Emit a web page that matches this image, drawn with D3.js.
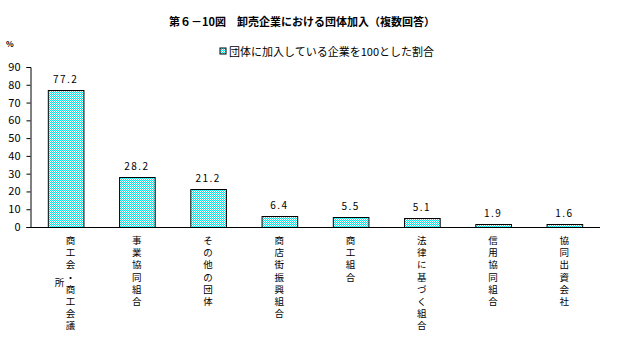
<!DOCTYPE html>
<html><head><meta charset="utf-8">
<script src="https://cdn.jsdelivr.net/npm/d3@7"></script>
<style>
body{margin:0;background:#fff;}
text{font-family:"Noto Sans CJK JP","DejaVu Sans",sans-serif;fill:#000;}
text.cat{font-family:"Liberation Sans","Noto Sans CJK JP",sans-serif;}
</style></head>
<body><svg id="c" width="621" height="343"></svg>
<script>
const categories = ["商工会・商工会議所","事業協同組合","その他の団体","商店街振興組合","商工組合","法律に基づく組合","信用協同組合","協同出資会社"];
const values = [77.2, 28.2, 21.2, 6.4, 5.5, 5.1, 1.9, 1.6];
const yTicks = [0,10,20,30,40,50,60,70,80,90];
const title = "第６－10図　卸売企業における団体加入（複数回答）";
const legendLabel = "団体に加入している企業を100とした割合";
const unit = "%";

const svg = d3.select("#c");
const defs = svg.append("defs");
const pat = defs.append("pattern").attr("id","dither").attr("patternUnits","userSpaceOnUse")
  .attr("width",2).attr("height",2);
pat.append("rect").attr("width",2).attr("height",2).attr("fill","#fff");
pat.append("rect").attr("x",0).attr("y",0).attr("width",1).attr("height",1).attr("fill","#00e8e8");
pat.append("rect").attr("x",1).attr("y",1).attr("width",1).attr("height",1).attr("fill","#00e8e8");

const x = d3.scaleBand().domain(categories).range([30,600]).paddingInner(0.5).paddingOuter(0.25);
const y = d3.scaleLinear().domain([0,90]).range([227,67]);

svg.append("text").attr("x",302).attr("y",26).attr("text-anchor","middle")
  .attr("font-size",11).attr("font-weight","bold").text(title);
svg.append("text").attr("x",6).attr("y",47).attr("font-size",8).attr("font-weight","bold").text(unit);

// legend
svg.append("rect").attr("x",220).attr("y",48).attr("width",6).attr("height",6)
  .attr("fill","url(#dither)").attr("stroke","#000").attr("stroke-width",1);
svg.append("text").attr("x",229).attr("y",55.5).attr("font-size",11).text(legendLabel);

// bars
svg.selectAll("rect.bar").data(values).join("rect").attr("class","bar")
  .attr("x",(d,i)=>x(categories[i])+0.5).attr("y",d=>Math.round(y(d))+0.5)
  .attr("width",x.bandwidth()).attr("height",d=>227-Math.round(y(d)))
  .attr("fill","url(#dither)").attr("stroke","#000").attr("stroke-width",1);

svg.selectAll("text.val").data(values).join("text").attr("class","val")
  .attr("x",(d,i)=>x(categories[i])+x.bandwidth()/2).attr("y",d=>y(d)-7)
  .attr("text-anchor","middle").attr("font-size",10).attr("letter-spacing",1.5)
  .attr("font-family","'DejaVu Sans Mono',monospace")
  .text(d=>d.toFixed(1));

// y axis
const ya = svg.append("g").attr("transform","translate(30.5,0)")
  .call(d3.axisLeft(y).tickValues(yTicks).tickSize(4).tickPadding(6));
ya.select(".domain").attr("stroke","#000");
ya.selectAll("text").attr("font-size",11).attr("font-family","'DejaVu Sans Mono',monospace");

// x axis
const xa = svg.append("g").attr("transform","translate(0,227.5)")
  .call(d3.axisBottom(x).tickSize(0).tickFormat(""));
xa.select(".domain").attr("stroke","#000").attr("d","M30,0H600");

// category labels vertical, one character per line
const lineH = 12.2;
categories.forEach((c,i)=>{
  const cx = x(c)+x.bandwidth()/2;
  const g = svg.append("g");
  const chars = Array.from(c);
  if(i===0){
    chars.slice(0,8).forEach((ch,k)=>g.append("text").attr("class","cat").attr("x",cx+5).attr("y",244+k*lineH)
      .attr("text-anchor","middle").attr("font-size",9.5).text(ch));
    g.append("text").attr("class","cat").attr("x",cx-6).attr("y",286).attr("text-anchor","middle").attr("font-size",9.5).text(chars[8]);
  } else {
    chars.forEach((ch,k)=>g.append("text").attr("class","cat").attr("x",cx).attr("y",244+k*lineH)
      .attr("text-anchor","middle").attr("font-size",9.5).text(ch));
  }
});
</script></body></html>
